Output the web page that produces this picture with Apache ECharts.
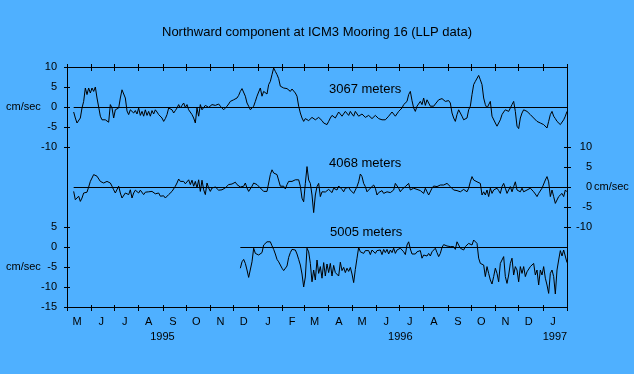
<!DOCTYPE html>
<html>
<head>
<meta charset="utf-8">
<script src="https://cdn.jsdelivr.net/npm/echarts@6/dist/echarts.min.js"></script>
<style>
  html, body { margin: 0; padding: 0; background: #4fb0ff; }
  #chart { width: 634px; height: 374px; }
</style>
</head>
<body>
<div id="chart"></div>
<script>
// ---- Data (cm/sec), sampled uniformly across the May 1995 - Jan 1997 axis ----
const SAMPLE_STEPS = 300;            // samples across the whole time axis
const depthLabels = ['3067 meters', '4068 meters', '5005 meters'];
const topStart = 4;
const topVals = [
  -1.25,-2.75,-4.0,-3.6,-2.75,-0.25,1.4,4.75,3.1,4.75,
  3.5,4.75,3.9,5.0,2.25,0,-2.3,-3.2,-2.75,-3.2,
  -3.6,-3.8,0.6,-0.25,-2.75,-0.7,-1.1,-0.25,2.25,4.3,
  4.75,2.25,-1.0,-1.9,-0.7,-0.25,-1.5,-0.9,-1.75,-0.25,
  -2.1,-1.1,-2.3,-0.7,-2.1,-1.1,-2.3,-0.9,-1.75,-0.7,
  -1.25,-1.9,-1.9,-2.75,-3.6,-2.9,-1.9,-0.25,0.2,-0.7,
  -1.5,-0.9,-0.25,0.6,-0.25,0.4,1.0,-0.1,0.6,-0.7,
  -0.25,-1.9,-2.75,-4.0,-0.25,-2.3,0.6,-0.7,-0.25,0.4,
  0.6,-0.1,0.2,0.6,0.75,0.4,0.6,0.75,0.2,-0.25,
  -0.7,-0.25,0.2,0.75,1.4,1.6,1.8,1.8,2.25,2.9,
  3.9,4.6,4.75,2.7,1.0,0.2,-0.7,-0.25,0.2,1.4,
  2.7,3.75,4.75,2.7,3.9,3.5,3.25,5.6,6.4,8.1,
  9.75,8.9,8.1,7.1,5.2,4.9,4.75,4.3,4.6,4.1,
  3.9,4.5,4.1,3.5,2.7,0.2,-1.5,-2.75,-3.6,-2.9,
  -2.75,-3.4,-3.2,-2.6,-2.3,-3.2,-3.2,-2.6,-2.75,-3.4,
  -4.0,-4.25,-4.4,-3.6,-2.75,-2.1,-1.9,-2.75,-2.3,-1.25,
  -1.5,-2.3,-1.9,-1.1,-1.5,-2.1,-1.1,-1.75,-2.3,-1.1,
  -1.5,-2.3,-2.75,-1.75,-1.9,-2.6,-2.75,-2.1,-2.3,-2.9,
  -2.75,-2.1,-2.3,-2.9,-2.75,-3.2,-3.6,-3.2,-2.75,-2.3,
  -1.9,-1.25,-1.5,-2.3,-1.9,-1.1,-1.5,-0.25,0.6,1.0,
  1.4,3.1,3.9,1.6,-0.25,-1.1,0.2,-0.25,1.4,0.6,
  2.25,0.4,1.8,1.0,0.2,0.6,0.2,0.75,1.0,1.8,
  1.4,2.1,1.8,1.4,1.8,1.6,1.0,-1.5,-2.75,-3.6,
  -1.9,-0.7,-1.5,-2.3,-3.2,-2.9,-2.75,-0.7,0.2,3.1,
  5.6,6.4,6.8,7.9,6.8,5.6,2.25,0.6,-0.25,-0.7,
  1.4,-2.3,-2.75,-4.0,-4.8,-4.0,-3.2,-1.9,-1.25,-0.7,
  -0.9,-1.1,-0.25,0.6,1.4,-1.1,-4.8,-5.4,-2.75,-1.5,
  -0.7,-0.9,-1.1,-1.5,-1.9,-2.3,-2.75,-3.2,-3.6,-3.4,
  -4.0,-3.6,-4.4,-4.0,-5.25,-3.6,-1.9,-1.1,-2.3,-2.9,
  -3.6,-4.0,-4.4,-4.0,-3.2,-2.3,-1.1];
const midStart = 4;
const midVals = [
  -1.1,-3.2,-3.6,-2.3,-3.6,-2.75,-1.5,-1.9,-1.3,0,
  1.4,2.25,3.1,3.3,2.7,2.25,1.4,1.8,1.0,0.6,
  1.4,1.7,1.0,0.2,-0.7,-1.5,-1.9,0.2,-1.5,-2.75,
  -3.0,-1.5,-1.1,-1.9,-0.7,-2.75,-1.5,-0.8,-1.1,-1.5,
  -0.8,-1.3,-1.9,-1.3,-1.5,-1.2,-1.7,-1.1,-1.3,-1.7,
  -1.9,-1.5,-2.3,-1.9,-2.2,-2.75,-2.3,-1.9,-1.5,-1.1,
  -0.7,0.2,1.0,2.0,1.4,1.0,1.4,0.8,1.0,1.8,
  0.6,1.7,0.2,1.4,-0.25,1.8,-1.1,1.7,-0.7,-1.9,
  1.0,-0.25,-1.1,-0.25,-0.7,0,-0.25,-0.8,-1.1,-0.7,
  -0.5,-0.2,0.2,0.6,1.0,0.75,0.6,1.2,0.6,0.2,
  0,0.1,0.2,1.0,-0.25,-1.1,-0.7,0.2,1.0,1.25,
  0.6,0.2,-0.25,-0.7,-1.1,-1.5,-1.1,1.0,3.1,4.3,
  3.5,3.3,3.1,2.7,0.2,0,0.2,-0.5,0.6,1.4,
  1.0,1.4,1.0,1.8,1.4,1.8,0.2,-2.8,-3.7,0.9,
  5.1,1.75,0.9,-2.0,-6.4,-2.0,0.1,0.9,-2.4,-1.2,
  -1.4,-1.25,-1.2,-0.6,-0.75,-1.4,-0.3,-0.6,-0.75,0.25,
  -0.1,-0.6,-1.2,-0.3,0.1,-0.1,-0.75,-1.2,-1.6,-0.75,
  0.1,1.3,3.25,2.6,0.9,0.1,-1.2,-1.6,-0.3,0.1,
  0.5,-0.3,-2.0,-1.4,-1.2,-0.9,-1.6,-1.2,-1.2,-0.75,
  -1.4,-1.2,-0.75,0.9,0.9,-0.3,-1.2,-0.6,-0.75,0.1,
  0.5,0.9,-0.75,-0.6,-0.3,-0.75,-0.6,-0.3,-0.9,-1.2,
  -1.6,-0.3,-1.2,-2.0,-2.4,-0.3,0.25,-0.1,0.1,0.25,
  0.5,0.25,0.5,0.75,0.9,0.5,0.1,-0.3,-0.75,-0.6,
  -0.9,-0.75,-1.2,-0.75,-0.6,-0.9,-1.2,-0.3,1.3,2.6,
  1.75,2.2,1.3,1.75,0.9,-2.0,-1.2,-2.0,-0.75,-2.4,
  -0.3,-1.6,-0.75,-0.6,-0.3,-0.9,-1.6,0.1,0.9,-0.3,
  -1.6,-0.75,0.1,-1.2,0.1,1.3,-0.75,-0.9,-1.2,-0.3,
  -1.2,-0.9,-0.75,-0.6,-0.3,-0.75,-1.2,-1.75,-2.4,-1.6,
  -1.2,-0.3,0.1,1.75,2.6,1.3,-2.4,-0.75,-2.4,-4.1,
  -3.25,-2.4,-2.8,-1.6,-2.4,-0.75,-1.2];
const botStart = 104;
const botVals = [
  -5.3,-3.7,-3.1,-4.1,-5.75,-7.6,-8.1,-3.7,-0.3,-1.6,
  -1.6,-2.0,-1.75,-1.4,0.5,0.9,1.3,1.1,1.3,0.3,
  -0.6,-1.75,-3.1,-3.7,-3.4,-5.3,-5.9,-5.6,-4.75,-2.6,
  -1.4,-0.6,-0.3,-0.75,-1.75,-3.1,-4.5,-6.75,-10.0,-7.5,
  -0.3,-1.2,-4.1,-8.7,-5.75,-8.25,-3.25,-6.6,-4.9,-7.8,
  -3.9,-7.25,-4.25,-6.4,-4.1,-7.25,-4.6,-6.4,-5.9,-7.25,
  -3.8,-5.9,-5.1,-6.4,-5.3,-6.1,-5.1,-6.75,-8.9,-5.6,
  -2.8,-0.1,-1.2,-0.75,-1.6,-0.9,-1.4,-0.9,-1.9,-0.75,
  -0.4,-1.6,-0.9,-1.4,-0.75,-1.9,-0.6,-1.4,-0.6,-1.75,
  -0.75,-1.4,-0.3,-1.6,-0.75,-1.2,-0.3,-0.75,-1.2,-1.9,
  0.5,1.3,-0.5,-1.75,-1.4,-1.75,-1.2,-1.6,-0.9,-2.8,
  -2.0,-1.75,-2.25,-1.6,-2.25,-1.2,-0.75,-0.3,-1.4,-2.4,
  -1.6,-0.1,0.6,0.1,0.25,-0.1,0.1,-0.3,0.1,-0.6,
  1.3,0.5,-0.3,-0.3,-0.75,0.1,-0.1,0.9,1.3,0.5,
  1.75,1.3,0.9,-2.8,-4.1,-4.5,-4.5,-7.4,-4.9,-6.6,
  -8.25,-9.25,-7.4,-5.3,-6.6,-8.7,-4.1,-3.7,-2.4,-7.4,
  -9.1,-7.0,-4.1,-2.8,-7.0,-4.9,-5.75,-8.7,-4.9,-6.6,
  -4.9,-7.4,-6.2,-6.6,-4.9,-5.3,-4.1,-7.0,-5.75,-9.5,
  -5.75,-7.0,-4.9,-7.8,-9.5,-11.6,-6.6,-5.75,-7.4,-11.75,
  -5.75,-3.25,-0.9,-2.25,-0.75,-0.75,-3.9];
const monthInitials = ['J','F','M','A','M','J','J','A','S','O','N','D'];
const titleText = 'Northward component at ICM3 Mooring 16 (LLP data)';
const unitLabel = 'cm/sec';

// ---- Time axis range (timestamps on a numeric axis) ----
const BASE = new Date(1995, 4, 1).getTime();
const END = new Date(1997, 1, 1).getTime();
const stepMs = (END - BASE) / SAMPLE_STEPS;
const monthStarts = [], monthMids = [];
for (let m = 0; m <= 21; m++) monthStarts.push(new Date(1995, 4 + m, 1).getTime());
for (let m = 0; m < 21; m++) monthMids.push(new Date(1995, 4 + m, 14).getTime());
const yearMids = [1995, 1996, 1997].map(y => {
  const a = Math.max(BASE, new Date(y, 0, 1).getTime());
  const b = Math.min(END, new Date(y + 1, 0, 1).getTime());
  return (a + b) / 2;
});

function toSeries(start, vals) {
  return vals.map((v, i) => [BASE + (start + i) * stepMs, v]);
}
const FONT = '"Liberation Sans", Arial, sans-serif';
const BLACK = '#000';

const frame = { left: 67, top: 67, width: 500, height: 240 };
const panelTop = { left: 67, top: 67, width: 500, height: 80 };
const panelMid = { left: 67, top: 147, width: 500, height: 80 };
const panelBot = { left: 67, top: 227, width: 500, height: 80 };

const tickStyle = { color: BLACK, width: 1 };
function tAxis(grid, extra) {
  return Object.assign({
    type: 'value', gridIndex: grid, min: BASE, max: END, scale: true,
    axisLine: { show: false, onZero: false, lineStyle: tickStyle },
    axisTick: { show: false }, axisLabel: { show: false }, splitLine: { show: false }
  }, extra);
}
function vAxis(grid, extra) {
  return Object.assign({
    type: 'value', gridIndex: grid,
    axisLine: { show: false, onZero: false, lineStyle: tickStyle },
    axisTick: { show: false }, axisLabel: { show: false }, splitLine: { show: false }
  }, extra);
}
const shownLine = { show: true, onZero: false, lineStyle: tickStyle };
const labelStyle = { color: BLACK, fontSize: 11, fontFamily: FONT };

function zeroLine(series) {
  return {
    silent: true, symbol: 'none', label: { show: false },
    lineStyle: { color: BLACK, width: 1, type: 'solid' },
    data: [[{ coord: [series[0][0], 0] }, { coord: [series[series.length - 1][0], 0] }]]
  };
}
const topData = toSeries(topStart, topVals);
const midData = toSeries(midStart, midVals);
const botData = toSeries(botStart, botVals);

const option = {
  backgroundColor: '#4fb0ff',
  animation: false,
  title: {
    text: titleText, left: 'center', top: 26, padding: 0,
    textStyle: { color: BLACK, fontSize: 13, fontWeight: 'normal', fontFamily: FONT }
  },
  grid: [frame, frame, frame, panelTop, panelTop, panelMid, panelMid, panelBot, panelBot],
  xAxis: [
    tAxis(0, { position: 'bottom', axisLine: shownLine,
      axisTick: { show: true, length: 4, customValues: monthStarts, lineStyle: tickStyle },
      axisLabel: Object.assign({ show: true, customValues: monthMids, margin: 9, hideOverlap: false,
        formatter: v => monthInitials[new Date(v).getMonth()] }, labelStyle) }),
    tAxis(0, { position: 'top', axisLine: shownLine,
      axisTick: { show: true, length: 3, customValues: monthStarts, lineStyle: tickStyle } }),
    tAxis(1, { position: 'bottom',
      axisTick: { show: true, inside: true, length: 2, customValues: monthStarts, lineStyle: tickStyle } }),
    tAxis(1, { position: 'top',
      axisTick: { show: true, inside: true, length: 4, customValues: monthStarts, lineStyle: tickStyle } }),
    tAxis(2, { position: 'bottom',
      axisLabel: Object.assign({ show: true, customValues: yearMids, margin: 24, hideOverlap: false,
        formatter: v => String(new Date(v).getFullYear()) }, labelStyle) }),
    tAxis(3, {}), tAxis(4, {}), tAxis(5, {}), tAxis(6, {}), tAxis(7, {}), tAxis(8, {})
  ],
  yAxis: [
    vAxis(0, { position: 'left', min: 0, max: 1, axisLine: shownLine }),
    vAxis(0, { position: 'right', min: 0, max: 1, axisLine: shownLine }),
    vAxis(1, { min: 0, max: 1 }),
    vAxis(2, { min: 0, max: 1 }),
    vAxis(3, { position: 'left', min: -10, max: 10, interval: 5,
      axisTick: { show: true, length: 3, lineStyle: tickStyle },
      axisLabel: Object.assign({ show: true, margin: 10 }, labelStyle) }),
    vAxis(4, { position: 'left', min: -10, max: 10, interval: 5,
      axisTick: { show: true, inside: true, length: 3, lineStyle: tickStyle } }),
    vAxis(5, { position: 'right', min: -10, max: 10, interval: 5,
      axisTick: { show: true, length: 4, lineStyle: tickStyle },
      axisLabel: Object.assign({ show: true, margin: 25, align: 'right' }, labelStyle) }),
    vAxis(6, { position: 'right', min: -10, max: 10, interval: 5,
      axisTick: { show: true, inside: true, length: 3, lineStyle: tickStyle } }),
    vAxis(7, { position: 'left', min: -15, max: 5, interval: 5,
      axisTick: { show: true, length: 3, lineStyle: tickStyle },
      axisLabel: Object.assign({ show: true, margin: 10 }, labelStyle) }),
    vAxis(8, { position: 'left', min: -15, max: 5, interval: 5,
      axisTick: { show: true, inside: true, length: 3, lineStyle: tickStyle } })
  ],
  series: [
    { name: depthLabels[0], type: 'line', xAxisIndex: 5, yAxisIndex: 4, data: topData,
      showSymbol: false, symbol: 'none', lineStyle: { color: BLACK, width: 1 }, markLine: zeroLine(topData) },
    { name: depthLabels[1], type: 'line', xAxisIndex: 7, yAxisIndex: 6, data: midData,
      showSymbol: false, symbol: 'none', lineStyle: { color: BLACK, width: 1 }, markLine: zeroLine(midData) },
    { name: depthLabels[2], type: 'line', xAxisIndex: 9, yAxisIndex: 8, data: botData,
      showSymbol: false, symbol: 'none', lineStyle: { color: BLACK, width: 1 }, markLine: zeroLine(botData) }
  ],
  graphic: [
    { type: 'text', x: 329, y: 89, style: { text: depthLabels[0], fill: BLACK, font: '13px ' + FONT, verticalAlign: 'middle', textVerticalAlign: 'middle' } },
    { type: 'text', x: 329, y: 163, style: { text: depthLabels[1], fill: BLACK, font: '13px ' + FONT, verticalAlign: 'middle', textVerticalAlign: 'middle' } },
    { type: 'text', x: 330, y: 232, style: { text: depthLabels[2], fill: BLACK, font: '13px ' + FONT, verticalAlign: 'middle', textVerticalAlign: 'middle' } },
    { type: 'text', x: 6, y: 107, style: { text: unitLabel, fill: BLACK, font: '11px ' + FONT, verticalAlign: 'middle', textVerticalAlign: 'middle' } },
    { type: 'text', x: 6, y: 267, style: { text: unitLabel, fill: BLACK, font: '11px ' + FONT, verticalAlign: 'middle', textVerticalAlign: 'middle' } },
    { type: 'text', x: 594, y: 187, style: { text: unitLabel, fill: BLACK, font: '11px ' + FONT, verticalAlign: 'middle', textVerticalAlign: 'middle' } }
  ]
};
const chart = echarts.init(document.getElementById('chart'), null, { renderer: 'canvas' });
chart.setOption(option);
</script>
</body>
</html>
